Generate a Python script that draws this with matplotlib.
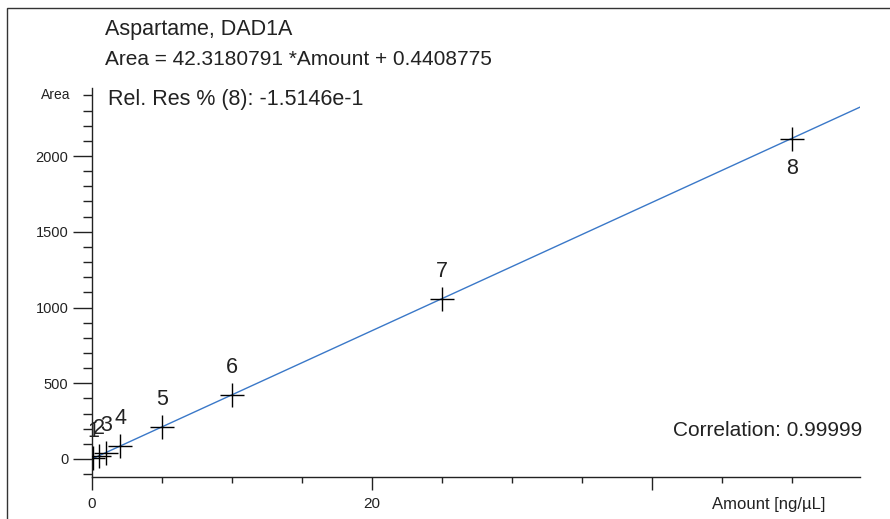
import matplotlib
matplotlib.use('Agg')

import matplotlib.pyplot as plt
from matplotlib.patches import Rectangle
from matplotlib.ticker import MultipleLocator, FixedLocator
import numpy as np

# Calibration levels for Aspartame (DAD1A)
levels = ["1", "2", "3", "4", "5", "6", "7", "8"]
amounts = [0.1, 0.5, 1.0, 2.0, 5.0, 10.0, 25.0, 50.0]
areas = [4.7, 21.5, 42.8, 85.1, 212.0, 423.6, 1058.4, 2113.0]

slope = 42.3180791
intercept = 0.4408775
correlation = "0.99999"
rel_res = "-1.5146e-1"

FONT = ['Liberation Sans', 'DejaVu Sans']
INK = '#222222'


def main():
    plt.rcParams['font.family'] = FONT
    fig = plt.figure(figsize=(8.9, 5.19), dpi=100)
    ax = fig.add_axes([0.1034, 0.0809, 0.8626, 0.7495])

    # frame around the whole panel
    fig.patches.append(Rectangle((0.008, -0.05), 1.1, 1.035, transform=fig.transFigure,
                                 fill=False, edgecolor='#333333', linewidth=1.0))

    xmax = 54.86
    ax.set_xlim(0, xmax)
    ax.set_ylim(-119, 2449)

    # fitted calibration line
    xs = np.array([0, xmax])
    ax.plot(xs, slope * xs + intercept, color='#3a78c8', linewidth=1.0, zorder=2)

    ax.plot(amounts, areas, linestyle='none', marker='+', markersize=17,
            markeredgewidth=1.0, color='black', zorder=3)

    for lab, x, y in zip(levels, amounts, areas):
        if lab == "8":
            ax.annotate(lab, (x, y), xytext=(0, -14), textcoords='offset points',
                        ha='center', va='top', fontsize=15.5, color=INK)
        else:
            ax.annotate(lab, (x, y), xytext=(0, 12), textcoords='offset points',
                        ha='center', va='bottom', fontsize=15.5, color=INK)

    for side in ['top', 'right']:
        ax.spines[side].set_visible(False)
    for side in ['left', 'bottom']:
        ax.spines[side].set_color(INK)
        ax.spines[side].set_linewidth(1.0)

    ax.xaxis.set_major_locator(FixedLocator([0, 20, 40]))
    ax.xaxis.set_minor_locator(MultipleLocator(5))
    ax.set_xticklabels(["0", "20", ""])
    ax.yaxis.set_major_locator(FixedLocator([0, 500, 1000, 1500, 2000]))
    ax.yaxis.set_minor_locator(MultipleLocator(100))
    ax.tick_params(axis='x', which='major', length=9.5, width=1.0, color=INK,
                   labelsize=11, labelcolor=INK, pad=5)
    ax.tick_params(axis='x', which='minor', length=4.5, width=1.0, color=INK)
    ax.tick_params(axis='y', which='major', length=14, width=1.0, color=INK,
                   labelsize=10.5, labelcolor=INK, pad=3)
    ax.tick_params(axis='y', which='minor', length=6.5, width=1.0, color=INK)

    fig.text(105 / 890, 1 - 30 / 519, "Aspartame, DAD1A", fontsize=15.5,
             ha='left', va='center', color=INK)
    fig.text(105 / 890, 1 - 60 / 519, f"Area = {slope:.7f} *Amount + {intercept:.7f}",
             fontsize=15, ha='left', va='center', color=INK)
    fig.text(108 / 890, 1 - 99 / 519, f"Rel. Res % (8): {rel_res}", fontsize=15.5,
             ha='left', va='center', color=INK)
    fig.text(70 / 890, 1 - 95 / 519, "Area", fontsize=10, ha='right',
             va='center', color=INK)
    fig.text(862 / 890, 1 - 431 / 519, f"Correlation: {correlation}", fontsize=15,
             ha='right', va='center', color=INK)
    fig.text(825 / 890, 1 - 505 / 519, "Amount [ng/\u00b5L]", fontsize=12,
             ha='right', va='center', color=INK)

    fig.savefig("out.png", dpi=100)


if __name__ == "__main__":
    main()
